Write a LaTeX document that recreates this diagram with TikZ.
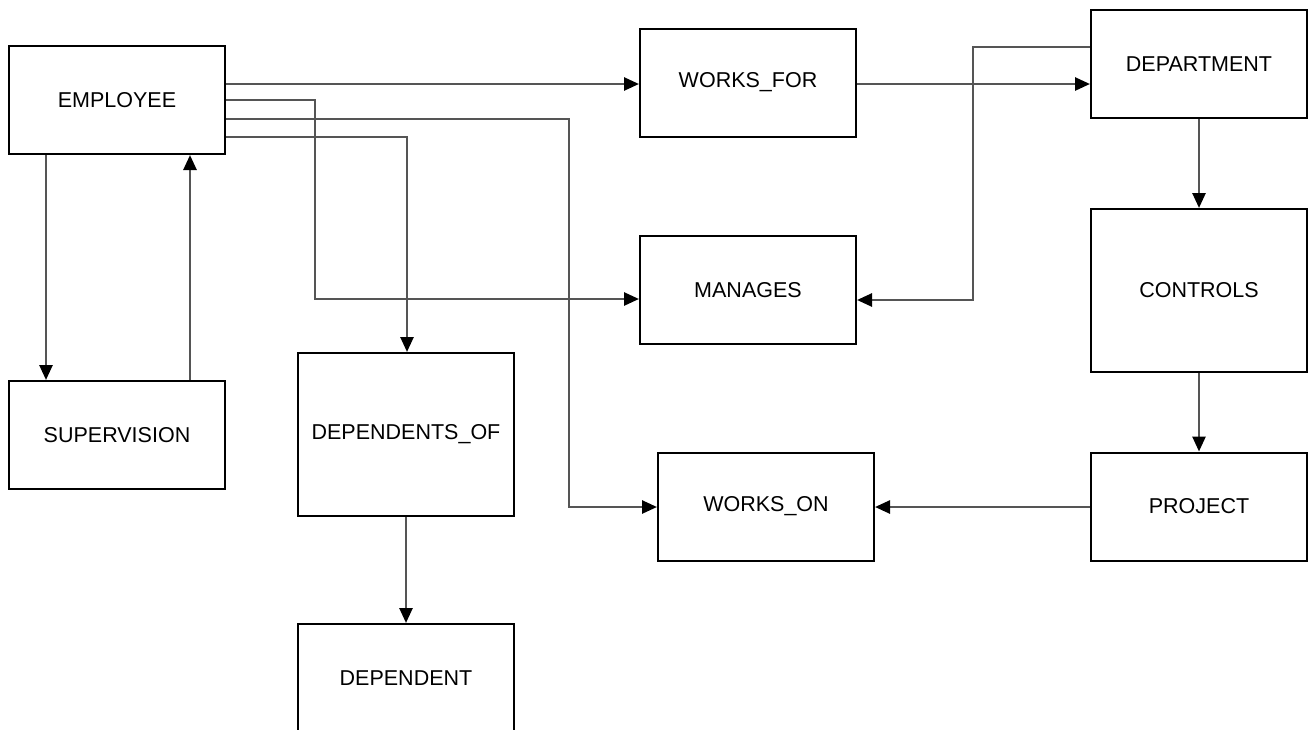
\documentclass[tikz,border=0pt]{standalone}
\usepackage{fontspec}
\setmainfont{Liberation Sans}
\usetikzlibrary{arrows.meta}
\definecolor{wire}{HTML}{555555}
\tikzset{
  entity/.style={draw=black, line width=2pt, fill=white, rectangle, inner sep=0pt,
    minimum width=216pt, minimum height=108pt, font=\fontsize{21.5}{25}\selectfont},
  tall/.style={entity, minimum height=163pt},
  conn/.style={draw=wire, line width=2.6pt, -{Triangle[length=15pt,width=13pt,color=black]}},
}
\begin{document}
\begin{tikzpicture}[x=1pt, y=-1pt]
\useasboundingbox (0,0) rectangle (1314,729);
% entity and relationship boxes
\node[entity] (emp)   at (117,100)   {EMPLOYEE};
\node[entity] (sup)   at (117,435)   {SUPERVISION};
\node[tall]   (depof) at (406,434.5) {DEPENDENTS\_OF};
\node[entity] (dep)   at (406,678)   {DEPENDENT};
\node[entity] (wf)    at (748,82.5)  {WORKS\_FOR};
\node[entity] (man)   at (748,290)   {MANAGES};
\node[entity] (won)   at (766,506.5) {WORKS\_ON};
\node[entity] (dept)  at (1199,64)   {DEPARTMENT};
\node[tall]   (ctrl)  at (1199,290.5){CONTROLS};
\node[entity] (proj)  at (1199,506.5){PROJECT};
% connectors leaving EMPLOYEE
\draw[conn] (emp.east |- 0,84) -- (wf.west |- 0,84);
\draw[conn] (emp.east |- 0,100) -- (315,100) -- (315,299) -- (man.west |- 0,299);
\draw[conn] (emp.east |- 0,119) -- (569,119) -- (569,507) -- (won.west |- 0,507);
\draw[conn] (emp.east |- 0,137) -- (407,137) -- (depof.north -| 407,0);
% supervision loop
\draw[conn] (emp.south -| 46,0) -- (sup.north -| 46,0);
\draw[conn] (sup.north -| 190,0) -- (emp.south -| 190,0);
% remaining links
\draw[conn] (depof.south) -- (dep.north);
\draw[conn] (wf.east |- 0,84) -- (dept.west |- 0,84);
\draw[conn] (dept.west |- 0,47) -- (973,47) -- (973,300) -- (man.east |- 0,300);
\draw[conn] (dept.south) -- (ctrl.north);
\draw[conn] (ctrl.south) -- (proj.north);
\draw[conn] (proj.west |- 0,507) -- (won.east |- 0,507);
\end{tikzpicture}
\end{document}
